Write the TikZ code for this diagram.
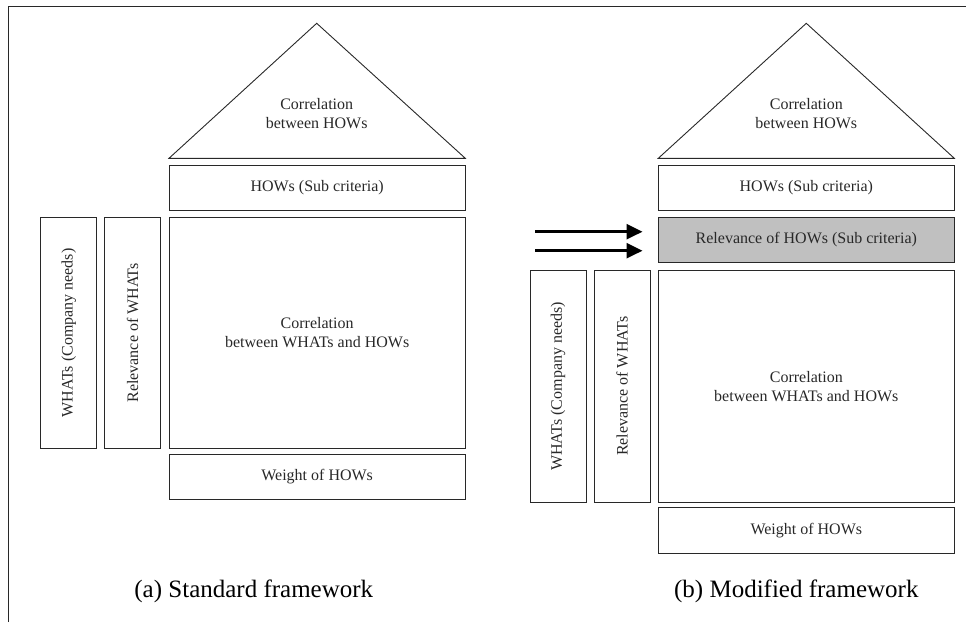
\documentclass[tikz,border=0pt]{standalone}
\usepackage{fontspec}
\usepackage{graphicx}
\setmainfont{Liberation Serif}
\usetikzlibrary{arrows.meta}
\definecolor{ink}{RGB}{40,40,40}
\definecolor{shade}{RGB}{192,192,192}
\begin{document}
\begin{tikzpicture}[x=1pt,y=-1pt,
  box/.style={draw=ink, line width=0.9pt, inner sep=0pt, outer sep=0pt,
    anchor=north west, text=ink, align=center,
    font=\fontsize{16}{19}\selectfont},
  roof/.style={draw=ink, line width=0.9pt},
  rooftext/.style={text=ink, align=center, font=\fontsize{16}{19}\selectfont},
  caption/.style={text=black, font=\fontsize{25}{30}\selectfont},
  push/.style={line width=2.6pt, -{Triangle[length=16pt,width=15pt]}},
  frame/.style={draw=ink, line width=1pt}
]
\useasboundingbox (0,0) rectangle (966,622);

% outer frame (left and top edges)
\draw[frame] (8.5,622) -- (8.5,6.5) -- (966,6.5);

% ---------- (a) standard framework ----------
\coordinate (aApex) at (316.7,23.3);
\coordinate (aBL) at (169,158.3);
\coordinate (aBR) at (465.3,158.3);
\draw[roof] (aBL) -- (aApex) -- (aBR) -- cycle;
\node[rooftext] (aRoof) at (316.7,113.5) {Correlation\\between HOWs};

\node[box, minimum width=296.3pt, minimum height=45pt] (aHows) at (169,165) {HOWs (Sub criteria)};
\node[box, minimum width=296.3pt, minimum height=231pt] (aCorr) at (169,217.3) {Correlation\\between WHATs and HOWs};
\node[box, minimum width=56pt, minimum height=231pt] (aWhats) at (40.7,217.3) {\rotatebox{90}{WHATs (Company needs)}};
\node[box, minimum width=56pt, minimum height=231pt] (aRel) at (104.7,217.3) {\rotatebox{90}{Relevance of WHATs}};
\node[box, minimum width=296.3pt, minimum height=44.7pt] (aWeight) at (169,454.3) {Weight of HOWs};

\node[caption] (aCap) at (253.8,591) {(a) Standard framework};

% ---------- (b) modified framework ----------
\coordinate (bApex) at (806.3,23.3);
\coordinate (bBL) at (658.3,158.3);
\coordinate (bBR) at (954.3,158.3);
\draw[roof] (bBL) -- (bApex) -- (bBR) -- cycle;
\node[rooftext] (bRoof) at (806.3,113.5) {Correlation\\between HOWs};

\node[box, minimum width=296pt, minimum height=45pt] (bHows) at (658.3,165) {HOWs (Sub criteria)};
\node[box, fill=shade, minimum width=296pt, minimum height=45pt] (bRelHows) at (658.3,217.3) {Relevance of HOWs (Sub criteria)};
\node[box, minimum width=296pt, minimum height=231.3pt] (bCorr) at (658.3,270.7) {Correlation\\between WHATs and HOWs};
\node[box, minimum width=56pt, minimum height=231.3pt] (bWhats) at (530,270.7) {\rotatebox{90}{WHATs (Company needs)}};
\node[box, minimum width=56pt, minimum height=231.3pt] (bRel) at (594,270.7) {\rotatebox{90}{Relevance of WHATs}};
\node[box, minimum width=296pt, minimum height=45.3pt] (bWeight) at (658.3,507.7) {Weight of HOWs};

\node[caption] (bCap) at (796.3,591) {(b) Modified framework};

% arrows pointing at the added row
\coordinate (p1s) at (535,231.7);
\coordinate (p1e) at (642.5,231.7);
\coordinate (p2s) at (535,250.7);
\coordinate (p2e) at (642.5,250.7);
\draw[push] (p1s) -- (p1e);
\draw[push] (p2s) -- (p2e);
\end{tikzpicture}
\end{document}
